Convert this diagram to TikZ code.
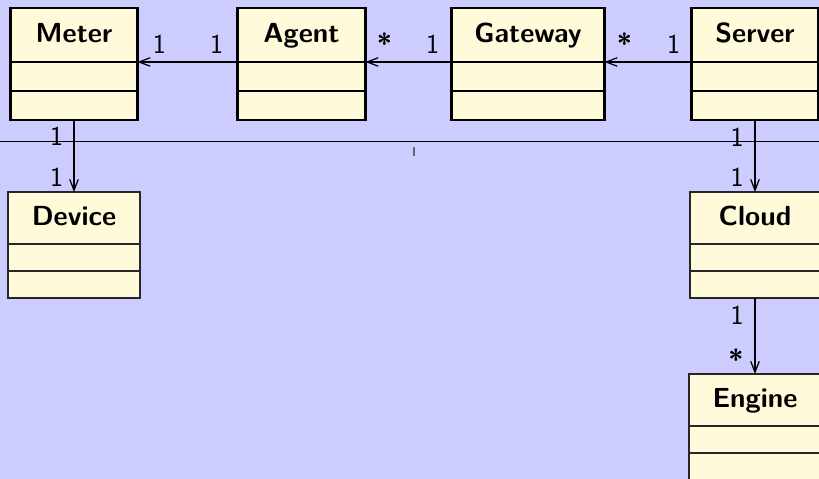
\documentclass[tikz,border=0pt]{standalone}
\usepackage{fontspec}
\usepackage{tikz}
\usetikzlibrary{arrows.meta,positioning}

\definecolor{canvas}{RGB}{204,204,255}
\definecolor{classfill}{RGB}{255,250,218}

\tikzset{
  umltitle/.style={draw, fill=classfill, inner sep=0pt, outer sep=0pt,
    font=\fontsize{15.7}{18}\selectfont\sffamily\bfseries,
    text height=11pt, text depth=3pt},
  umlcell/.style={draw, fill=classfill, inner sep=0pt, outer sep=0pt},
  toprow/.style={line width=1.6pt, minimum height=1.08cm},
  toprowcell/.style={line width=1.6pt, minimum height=0.58cm},
  lowrow/.style={line width=0.6pt, draw=black!85, minimum height=1.04cm},
  lowrowcell/.style={line width=0.6pt, draw=black!85, minimum height=0.54cm},
  assoc/.style={line width=0.7pt, -{Straight Barb[length=0.22cm,width=0.17cm]}},
  mult/.style={inner sep=0pt, font=\fontsize{15.7}{18}\selectfont\sffamily},
  many/.style={mult, font=\fontsize{15.7}{18}\selectfont\sffamily\bfseries}
}

\begin{document}
\begin{tikzpicture}[x=0.02cm,y=-0.02cm]
                        \fill[canvas] (0,0) rectangle (819,479);
                        \useasboundingbox (0,0) rectangle (819,479);

                        \draw[line width=0.6pt] (0,141.3) -- (819,141.3);
                        \draw[black!60, line width=0.6pt] (414,147) -- (414,156);

                        % top row
                        \node[umltitle, toprow, minimum width=2.54cm] (meter) at (74,35) {Meter};
                        \node[umlcell, toprowcell, minimum width=2.54cm, below=0pt of meter] (meter-attr) {};
                        \node[umlcell, toprowcell, minimum width=2.54cm, below=0pt of meter-attr] (meter-ops) {};

                        \node[umltitle, toprow, minimum width=2.56cm] (agent) at (301.5,35) {Agent};
                        \node[umlcell, toprowcell, minimum width=2.56cm, below=0pt of agent] (agent-attr) {};
                        \node[umlcell, toprowcell, minimum width=2.56cm, below=0pt of agent-attr] (agent-ops) {};

                        \node[umltitle, toprow, minimum width=3.06cm] (gateway) at (528,35) {Gateway};
                        \node[umlcell, toprowcell, minimum width=3.06cm, below=0pt of gateway] (gateway-attr) {};
                        \node[umlcell, toprowcell, minimum width=3.06cm, below=0pt of gateway-attr] (gateway-ops) {};

                        \node[umltitle, toprow, minimum width=2.54cm] (server) at (755,35) {Server};
                        \node[umlcell, toprowcell, minimum width=2.54cm, below=0pt of server] (server-attr) {};
                        \node[umlcell, toprowcell, minimum width=2.54cm, below=0pt of server-attr] (server-ops) {};

                        % lower classes
                        \node[umltitle, lowrow, minimum width=2.64cm] (device) at (74,218) {Device};
                        \node[umlcell, lowrowcell, minimum width=2.64cm, below=0pt of device] (device-attr) {};
                        \node[umlcell, lowrowcell, minimum width=2.64cm, below=0pt of device-attr] (device-ops) {};

                        \node[umltitle, lowrow, minimum width=2.6cm] (cloud) at (755,218) {Cloud};
                        \node[umlcell, lowrowcell, minimum width=2.6cm, below=0pt of cloud] (cloud-attr) {};
                        \node[umlcell, lowrowcell, minimum width=2.6cm, below=0pt of cloud-attr] (cloud-ops) {};

                        \node[umltitle, lowrow, minimum width=2.64cm] (engine) at (755,400) {Engine};
                        \node[umlcell, lowrowcell, minimum width=2.64cm, below=0pt of engine] (engine-attr) {};
                        \node[umlcell, lowrowcell, minimum width=2.64cm, below=0pt of engine-attr] (engine-ops) {};

                        % associations
                        \draw[assoc] (agent.south west) -- (meter.south east);
                        \draw[assoc] (gateway.south west) -- (agent.south east);
                        \draw[assoc] (server.south west) -- (gateway.south east);
                        \draw[assoc] (meter-ops.south) -- (device.north);
                        \draw[assoc] (server-ops.south) -- (cloud.north);
                        \draw[assoc] (cloud-ops.south) -- (engine.north);

                        % multiplicities
                        \node[mult, above right=0.16cm and 0.3cm of meter.south east] (m-meter) {1};
                        \node[mult, above left=0.16cm and 0.28cm of agent.south west] (m-agent-l) {1};
                        \node[many, above right=0.16cm and 0.22cm of agent.south east] (m-agent-r) {*};
                        \node[mult, above left=0.16cm and 0.24cm of gateway.south west] (m-gateway-l) {1};
                        \node[many, above right=0.16cm and 0.24cm of gateway.south east] (m-gateway-r) {*};
                        \node[mult, above left=0.16cm and 0.22cm of server.south west] (m-server) {1};

                        \node[mult, below left=0.14cm and 0.21cm of meter-ops.south] (m-meter-d) {1};
                        \node[mult, above left=0.1cm and 0.21cm of device.north] (m-device) {1};
                        \node[mult, below left=0.16cm and 0.22cm of server-ops.south] (m-server-d) {1};
                        \node[mult, above left=0.1cm and 0.22cm of cloud.north] (m-cloud) {1};
                        \node[mult, below left=0.16cm and 0.22cm of cloud-ops.south] (m-cloud-d) {1};
                        \node[many, above left=0.08cm and 0.22cm of engine.north] (m-engine) {*};
                    \end{tikzpicture}
\end{document}
